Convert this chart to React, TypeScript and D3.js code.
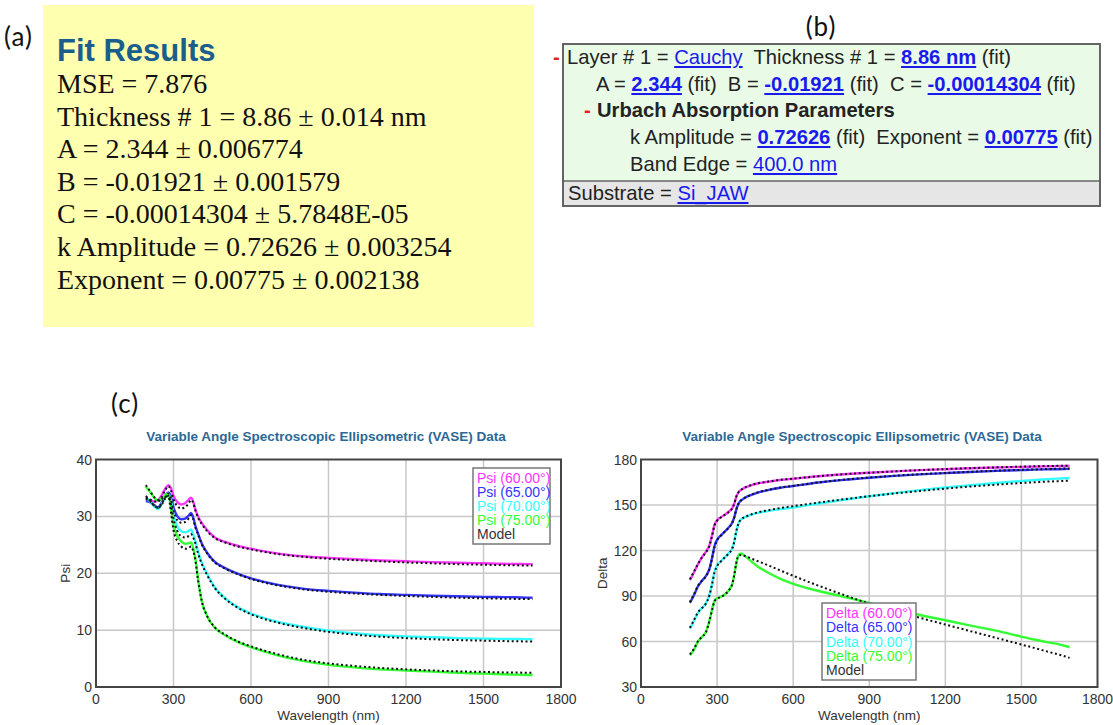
import React from 'react';
import * as d3 from 'd3';

// Wavelength grid shared by every Psi / Delta series (nm)
const wavelengths = [193, 210, 225, 240, 255, 270, 280, 290, 300, 315, 330, 345, 360, 368, 375, 385, 395, 410, 430, 460, 500, 550, 600, 700, 800, 900, 1000, 1100, 1200, 1300, 1400, 1500, 1550, 1600, 1640, 1670, 1690];

// Measured Psi (deg)
const psi60 = [32.9, 32.8, 32.6, 32.8, 33.8, 35.0, 35.5, 35.0, 33.6, 32.5, 32.1, 32.3, 33.0, 33.3, 32.8, 31.2, 30.0, 28.8, 27.6, 26.3, 25.5, 24.8, 24.3, 23.5, 23.0, 22.7, 22.45, 22.25, 22.1, 21.95, 21.85, 21.75, 21.7, 21.65, 21.63, 21.61, 21.6];
const psi65 = [32.7, 32.5, 32.0, 31.6, 32.5, 33.8, 34.2, 33.5, 31.6, 30.0, 29.5, 29.6, 30.2, 30.6, 30.0, 28.3, 27.0, 25.2, 23.6, 22.0, 20.9, 19.9, 19.1, 18.0, 17.3, 16.9, 16.6, 16.35, 16.2, 16.05, 15.95, 15.85, 15.82, 15.8, 15.75, 15.72, 15.7];
const psi70 = [33.4, 32.6, 31.8, 31.3, 32.2, 33.6, 34.0, 32.8, 30.3, 28.2, 27.4, 27.2, 27.5, 27.7, 27.0, 25.6, 23.8, 21.8, 19.9, 17.5, 15.6, 14.0, 12.9, 11.5, 10.6, 9.9, 9.45, 9.1, 8.9, 8.75, 8.6, 8.5, 8.47, 8.45, 8.43, 8.41, 8.4];
const psi75 = [35.2, 34.3, 33.3, 32.8, 33.2, 33.8, 34.0, 31.5, 28.5, 26.5, 25.6, 25.2, 25.3, 25.4, 24.6, 22.5, 19.0, 15.0, 12.5, 10.4, 9.1, 7.9, 7.0, 5.6, 4.6, 3.9, 3.45, 3.1, 2.9, 2.7, 2.5, 2.35, 2.28, 2.2, 2.16, 2.12, 2.1];

// Model Psi (deg)
const psiModel60 = [33.3, 33.0, 32.6, 32.6, 33.5, 34.8, 35.3, 34.6, 33.0, 31.8, 31.4, 31.6, 32.4, 32.9, 32.5, 31.0, 29.8, 28.6, 27.4, 26.2, 25.4, 24.7, 24.2, 23.4, 22.9, 22.55, 22.3, 22.1, 21.9, 21.75, 21.6, 21.5, 21.45, 21.4, 21.38, 21.36, 21.35];
const psiModel65 = [33.1, 32.6, 31.9, 31.5, 32.3, 33.5, 34.0, 33.0, 31.0, 29.3, 28.9, 29.0, 29.7, 30.2, 29.7, 28.0, 26.8, 25.0, 23.5, 21.9, 20.8, 19.8, 19.0, 17.9, 17.2, 16.75, 16.45, 16.2, 16.0, 15.85, 15.7, 15.6, 15.55, 15.5, 15.48, 15.46, 15.45];
const psiModel70 = [33.6, 32.7, 31.9, 31.5, 32.1, 33.3, 33.6, 32.2, 29.6, 27.4, 26.5, 26.3, 26.6, 26.9, 26.4, 25.2, 23.5, 21.6, 19.7, 17.4, 15.5, 13.9, 12.8, 11.35, 10.4, 9.7, 9.2, 8.85, 8.6, 8.4, 8.25, 8.15, 8.1, 8.05, 8.03, 8.01, 8.0];
const psiModel75 = [35.5, 34.4, 33.4, 32.9, 33.1, 33.5, 33.5, 30.8, 27.6, 25.6, 24.7, 24.3, 24.5, 24.7, 24.1, 22.2, 18.8, 15.0, 12.5, 10.5, 9.2, 8.0, 7.15, 5.8, 4.8, 4.15, 3.7, 3.35, 3.1, 2.9, 2.75, 2.65, 2.6, 2.55, 2.53, 2.51, 2.5];

// Measured Delta (deg)
const delta60 = [100.5, 106, 111, 115.5, 119, 123.5, 130, 137, 140, 142, 143.5, 145.5, 148, 151, 155, 158.5, 160, 161.5, 162.8, 164.2, 165.3, 166.5, 167.3, 169, 170.3, 171.3, 172.2, 173, 173.6, 174.2, 174.7, 175.1, 175.3, 175.5, 175.6, 175.7, 175.8];
const delta65 = [85.5, 91, 96.5, 100, 103, 108, 115, 123, 127, 130, 132.5, 135, 138.5, 142, 146.5, 151, 153, 154.8, 156.3, 158.2, 159.8, 161.4, 162.5, 164.8, 166.6, 168, 169.2, 170.2, 171, 171.8, 172.5, 173, 173.3, 173.5, 173.6, 173.7, 173.8];
const delta70 = [68.5, 74, 79, 82, 85, 91, 98, 106, 110, 113, 115.5, 118, 121.5, 126, 132, 138, 140.5, 142, 143.3, 144.8, 146, 147.3, 148.3, 151, 153.5, 155.8, 157.8, 159.8, 161.5, 163, 164.5, 165.8, 166.4, 167, 167.4, 167.6, 167.8];
const delta75 = [51, 55, 60, 63, 66, 74, 81, 87, 88.5, 89.5, 91, 93.5, 98, 104, 111, 117, 118, 116.3, 113.5, 109.5, 105.5, 101.3, 98, 93.3, 89.5, 85.5, 81.5, 77.5, 74, 70.5, 67.2, 63.2, 61.3, 59.6, 58.4, 57.2, 56.2];

// Model Delta (deg)
const deltaModel60 = [101, 106.5, 111.2, 115.3, 118.6, 123, 129.5, 136.5, 139.6, 141.8, 143.4, 145.3, 147.8, 151, 155.2, 158.6, 160.1, 161.6, 162.9, 164.3, 165.4, 166.6, 167.4, 169, 170.3, 171.3, 172.2, 173, 173.7, 174.3, 174.8, 175.3, 175.5, 175.7, 175.8, 175.9, 176];
const deltaModel65 = [86, 91.5, 96.8, 100, 102.8, 107.6, 114.5, 122.5, 126.7, 129.8, 132.4, 134.9, 138.4, 142, 146.7, 151.1, 153.1, 154.9, 156.4, 158.3, 159.9, 161.5, 162.6, 164.9, 166.7, 168.1, 169.3, 170.3, 171.1, 171.9, 172.6, 173.2, 173.45, 173.7, 173.9, 174, 174.1];
const deltaModel70 = [69, 74.5, 79.3, 82, 84.8, 90.5, 97.5, 105.5, 109.7, 112.8, 115.4, 117.9, 121.4, 126, 132.2, 138.1, 140.6, 142.1, 143.5, 145.1, 146.5, 148, 149.2, 151.6, 153.8, 155.8, 157.6, 159.3, 160.8, 162.2, 163.4, 164.5, 165, 165.4, 165.7, 165.9, 166];
const deltaModel75 = [51.5, 55.5, 60.3, 63, 65.8, 73.5, 80.5, 86.5, 88.2, 89.3, 90.9, 93.4, 98, 104, 111.2, 116.5, 117, 116.3, 115, 113, 110.3, 106.8, 103.3, 96.8, 90.7, 85, 80.2, 75.6, 71.2, 66.8, 62.4, 58, 55.8, 53.5, 51.7, 50.3, 49.2];

const angleLabels = ['60.00°', '65.00°', '70.00°', '75.00°'];
const seriesColors = ['#ff33ff', '#3333ff', '#33ffff', '#33ff33'];
const xTicks = [0, 300, 600, 900, 1200, 1500, 1800];
const psiTicks = [0, 10, 20, 30, 40];
const deltaTicks = [30, 60, 90, 120, 150, 180];

// Fit-results card lines
const fitLines = [
  'MSE = 7.876',
  'Thickness # 1 = 8.86 ± 0.014 nm',
  'A = 2.344 ± 0.006774',
  'B = -0.01921 ± 0.001579',
  'C = -0.00014304 ± 5.7848E-05',
  'k Amplitude = 0.72626 ± 0.003254',
  'Exponent = 0.00775 ± 0.002138',
];

const SANS = "'Liberation Sans', Arial, sans-serif";
const SERIF = "'Liberation Serif', 'Times New Roman', serif";
const LABEL_FONT = "Lato, 'Open Sans', sans-serif";

type ChartProps = {
  left: number; right: number; top: number; bottom: number;
  yDomain: [number, number]; yTicks: number[]; yLabel: string; yLabelX: number;
  title: string; titleX: number;
  data: number[][]; model: number[][]; prefix: string;
  legend: { x: number; y: number; w: number; h: number };
};

function VaseChart(p: ChartProps) {
  const x = d3.scaleLinear().domain([0, 1800]).range([p.left, p.right]);
  const y = d3.scaleLinear().domain(p.yDomain).range([p.bottom, p.top]);
  const line = d3.line<[number, number]>()
    .x(d => x(d[0]))
    .y(d => y(d[1]))
    .curve(d3.curveMonotoneX);
  const pts = (vals: number[]) => wavelengths.map((w, i) => [w, vals[i]] as [number, number]);
  const midY = (p.top + p.bottom) / 2;
  const lg = p.legend;
  const rowH = (lg.h - 6) / 5;
  return (
    <g>
      <text x={p.titleX} y={p.top - 19} textAnchor="middle" fontFamily={SANS} fontWeight="bold"
        fontSize={13.5} fill="#2a6896">{p.title}</text>
      {/* grid */}
      {xTicks.slice(1, -1).map(t => (
        <line key={'gx' + t} x1={x(t)} x2={x(t)} y1={p.top} y2={p.bottom} stroke="#c8c8c8" strokeWidth={1.5} />
      ))}
      {p.yTicks.slice(1, -1).map(t => (
        <line key={'gy' + t} x1={p.left} x2={p.right} y1={y(t)} y2={y(t)} stroke="#c8c8c8" strokeWidth={1.5} />
      ))}
      {/* measured data */}
      {p.data.map((vals, i) => (
        <path key={'d' + i} d={line(pts(vals)) || ''} fill="none" stroke={seriesColors[i]} strokeWidth={2.4} />
      ))}
      {/* model */}
      {p.model.map((vals, i) => (
        <path key={'m' + i} d={line(pts(vals)) || ''} fill="none" stroke="#111" strokeWidth={2}
          strokeDasharray="2,2.6" />
      ))}
      {/* frame */}
      <rect x={p.left} y={p.top} width={p.right - p.left} height={p.bottom - p.top} fill="none"
        stroke="#444" strokeWidth={2} />
      {/* tick labels */}
      {xTicks.map(t => (
        <text key={'tx' + t} x={x(t)} y={p.bottom + 17} textAnchor="middle" fontFamily={SANS}
          fontSize={14} fill="#333">{t}</text>
      ))}
      {p.yTicks.map(t => (
        <text key={'ty' + t} x={p.left - 4} y={y(t) + 5} textAnchor="end" fontFamily={SANS}
          fontSize={14} fill="#333">{t}</text>
      ))}
      <text x={(p.left + p.right) / 2} y={p.bottom + 33} textAnchor="middle" fontFamily={SANS}
        fontSize={13.5} fill="#333">Wavelength (nm)</text>
      <text transform={`translate(${p.yLabelX},${midY}) rotate(-90)`} textAnchor="middle" fontFamily={SANS}
        fontSize={13.5} fill="#333">{p.yLabel}</text>
      {/* legend */}
      <rect x={lg.x} y={lg.y} width={lg.w} height={lg.h} fill="#fff" stroke="#777" strokeWidth={1.5} />
      {angleLabels.map((a, i) => (
        <text key={'l' + i} x={lg.x + 4} y={lg.y + 3 + rowH * (i + 0.5) + 5} fontFamily={SANS} fontSize={14}
          fill={seriesColors[i]}>{`${p.prefix} (${a})`}</text>
      ))}
      <text x={lg.x + 4} y={lg.y + 3 + rowH * 4.5 + 5} fontFamily={SANS} fontSize={14} fill="#333">Model</text>
    </g>
  );
}

const LINK = '#1a1aee';

function Link({ children, bold }: { children: React.ReactNode; bold?: boolean }) {
  return (
    <tspan fill={LINK} fontWeight={bold ? 'bold' : 'normal'} textDecoration="underline"
      style={{ textDecoration: 'underline' }}>{children}</tspan>
  );
}

const pre = { whiteSpace: 'pre' as const };

export default function App() {
  return (
    <svg width={1113} height={725} viewBox="0 0 1113 725"
      style={{ position: 'absolute', left: 0, top: 0, background: '#fff' }}>
      <rect width={1113} height={725} fill="#fff" />

      {/* (a) fit results card */}
      <text x={4} y={46} fontFamily={LABEL_FONT} fontSize={26} letterSpacing={1} fill="#111">(a)</text>
      <rect x={43} y={5} width={491} height={322} fill="#ffffb0" />
      <text x={57} y={61} fontFamily={SANS} fontWeight="bold" fontSize={31} fill="#1b5e8e">Fit Results</text>
      {fitLines.map((s, i) => (
        <text key={s} x={57} y={93 + i * 32.6} fontFamily={SERIF} fontSize={28} fill="#111">{s}</text>
      ))}

      {/* (b) layer model */}
      <text x={821} y={36} textAnchor="middle" fontFamily={LABEL_FONT} fontSize={26} letterSpacing={1} fill="#111">(b)</text>
      <rect x={563} y={44} width={537} height={137} fill="#e9fbe6" />
      <rect x={563} y={181} width={537} height={25} fill="#e6e6e6" />
      <line x1={563} x2={1100} y1={181} y2={181} stroke="#666" strokeWidth={1.5} />
      <rect x={563} y={44} width={537} height={162} fill="none" stroke="#555" strokeWidth={1.8} />
      <g fontFamily={SANS} fontSize={20.2} fill="#222">
        <text x={553} y={64} fill="#e02020" fontWeight="bold">-</text>
        <text x={567} y={64} xmlSpace="preserve" style={pre}>Layer # 1 = <Link>Cauchy</Link>{'  Thickness # 1 = '}<Link bold>8.86 nm</Link>{' (fit)'}</text>
        <text x={596} y={91} xmlSpace="preserve" style={pre}>A = <Link bold>2.344</Link>{' (fit)  B = '}<Link bold>-0.01921</Link>{' (fit)  C = '}<Link bold>-0.00014304</Link>{' (fit)'}</text>
        <text x={584} y={117} fill="#e02020" fontWeight="bold">-</text>
        <text x={597} y={117} fontWeight="bold">Urbach Absorption Parameters</text>
        <text x={630} y={144} xmlSpace="preserve" style={pre}>k Amplitude = <Link bold>0.72626</Link>{' (fit)  Exponent = '}<Link bold>0.00775</Link>{' (fit)'}</text>
        <text x={630} y={171}>Band Edge = <Link>400.0 nm</Link></text>
        <text x={568} y={200}>Substrate = <Link>Si_JAW</Link></text>
      </g>

      {/* (c) VASE plots */}
      <text x={111} y={413} fontFamily={LABEL_FONT} fontSize={26} letterSpacing={1} fill="#111">(c)</text>
      <VaseChart left={96} right={561} top={459.5} bottom={687} yDomain={[0, 40]} yTicks={psiTicks}
        yLabel="Psi" yLabelX={70} title="Variable Angle Spectroscopic Ellipsometric (VASE) Data" titleX={326}
        data={[psi60, psi65, psi70, psi75]} model={[psiModel60, psiModel65, psiModel70, psiModel75]}
        prefix="Psi" legend={{ x: 473, y: 468, w: 77, h: 76 }} />
      <VaseChart left={641} right={1097.5} top={459.5} bottom={687} yDomain={[30, 180]} yTicks={deltaTicks}
        yLabel="Delta" yLabelX={607} title="Variable Angle Spectroscopic Ellipsometric (VASE) Data" titleX={862}
        data={[delta60, delta65, delta70, delta75]} model={[deltaModel60, deltaModel65, deltaModel70, deltaModel75]}
        prefix="Delta" legend={{ x: 822, y: 603, w: 94, h: 77 }} />
    </svg>
  );
}
